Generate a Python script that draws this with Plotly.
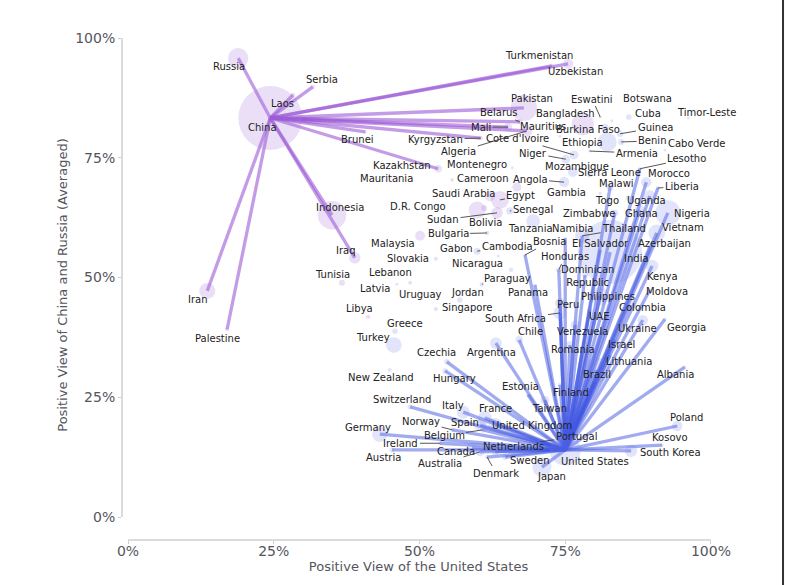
import numpy as np
import plotly.graph_objects as go

# ---- data: favourability of the US (x) vs average favourability of China and Russia (y), in percent
countries = [
    "China", "Russia", "Serbia", "Laos", "Brunei", "Turkmenistan", "Uzbekistan", "Pakistan",
    "Belarus", "Mali", "Kyrgyzstan", "Kazakhstan", "Indonesia", "Iraq", "Iran", "Palestine",
    "Algeria", "Mauritius", "Bangladesh", "Burkina Faso", "Eswatini", "Montenegro", "Mauritania",
    "Cameroon", "Saudi Arabia", "Egypt", "Senegal", "D.R. Congo", "Sudan", "Bolivia", "Bulgaria",
    "Malaysia", "Slovakia", "Tunisia", "Lebanon", "Latvia", "Libya", "Uruguay", "Greece", "Turkey",
    "New Zealand", "Singapore", "Jordan", "Paraguay", "Nicaragua", "Cambodia", "Gabon", "Tanzania",
    "Bosnia", "Cote d'Ivoire", "Niger", "Ethiopia", "Armenia", "Benin", "Guinea", "Cuba",
    "Botswana", "Timor-Leste", "Cabo Verde", "Mozambique", "Sierra Leone", "Lesotho", "Morocco",
    "Angola", "Gambia", "Malawi", "Togo", "Liberia", "Uganda", "Nigeria", "Ghana", "Zimbabwe",
    "Vietnam", "Thailand", "Namibia", "El Salvador", "Azerbaijan", "India", "Kenya",
    "Dominican Republic", "Honduras", "Moldova", "Philippines", "Peru", "South Africa", "Panama",
    "UAE", "Colombia", "Ukraine", "Georgia", "Venezuela", "Chile", "Argentina", "Romania",
    "Israel", "Lithuania", "Brazil", "Albania", "Czechia", "Hungary", "Estonia", "Finland",
    "Taiwan", "Switzerland", "Italy", "France", "Spain", "United Kingdom", "Norway", "Germany",
    "Belgium", "Ireland", "Austria", "Canada", "Netherlands", "Australia", "Denmark", "Sweden",
    "Japan", "United States", "Portugal", "Poland", "Kosovo", "South Korea",
]

us_view = [
    24.4, 18.9, 31.7, 28.3, 40.7, 72.7, 75.5, 67.9,
    67.2, 65.2, 60.5, 53.2, 35.0, 38.9, 13.6, 17.0,
    68.4, 74.1, 78.0, 81.8, 81.0, 65.9, 55.6,
    66.7, 62.1, 63.8, 65.5, 59.9, 63.3, 61.1, 61.6,
    50.1, 52.8, 36.7, 48.4, 46.1, 41.2, 47.5, 45.8, 45.6,
    44.9, 52.8, 56.9, 60.7, 65.7, 59.9, 63.5, 69.5,
    68.1, 76.5, 75.1, 82.2, 79.2, 84.6, 84.4, 85.9,
    83.0, 96.1, 92.1, 76.3, 79.2, 87.8, 88.9,
    74.8, 81.0, 82.7, 85.8, 90.9, 89.5, 92.6, 87.8, 83.5,
    90.7, 77.9, 75.0, 81.0, 89.5, 82.7, 89.9,
    78.4, 73.9, 89.5, 81.0, 74.1, 74.1, 69.8,
    79.2, 86.1, 88.3, 92.1, 76.7, 67.1, 63.1, 75.8,
    83.5, 82.7, 80.4, 95.5, 54.7, 54.4, 68.6, 74.1,
    71.5, 48.4, 57.5, 61.2, 60.4, 63.0, 55.6, 43.2,
    60.9, 53.5, 45.3, 59.0, 63.0, 60.4, 61.6, 64.7,
    71.0, 75.0, 70.7, 94.2, 91.6, 86.3,
]

cn_ru_view = [
    83.3, 95.8, 89.8, 88.1, 80.4, 94.2, 94.6, 85.4,
    82.5, 81.4, 79.1, 72.7, 63.0, 54.1, 47.2, 39.2,
    80.6, 79.5, 82.0, 81.2, 83.5, 72.9, 70.4,
    68.9, 67.0, 66.2, 63.9, 64.1, 63.5, 64.5, 59.3,
    58.7, 53.9, 48.9, 48.9, 48.6, 41.8, 45.9, 38.8, 35.9,
    30.7, 43.4, 45.3, 48.6, 51.6, 55.5, 54.5, 61.8,
    54.7, 75.6, 74.7, 78.3, 76.4, 78.3, 80.0, 83.5,
    82.7, 83.3, 76.6, 72.0, 71.4, 72.7, 69.9,
    69.9, 67.6, 68.9, 66.6, 68.7, 67.0, 63.5, 64.1, 63.5,
    59.3, 58.7, 58.2, 55.7, 56.4, 55.3, 52.4,
    50.5, 51.6, 47.4, 46.1, 44.7, 42.6, 48.4,
    43.2, 44.3, 41.1, 41.3, 40.1, 37.0, 36.3, 35.9,
    37.0, 33.8, 30.7, 31.3, 32.4, 30.5, 25.5, 27.6,
    24.4, 23.0, 21.9, 20.7, 19.2, 19.2, 18.2, 17.3,
    18.2, 15.4, 14.0, 14.4, 13.6, 13.6, 12.5, 12.5,
    10.4, 14.0, 15.7, 19.0, 15.0, 13.8,
]

# population in millions (bubble area)
population = [
    1410, 144, 6.7, 7.5, 0.45, 6.4, 35, 240,
    9.2, 22, 6.7, 19.6, 277, 45, 89, 5.4,
    45, 1.3, 171, 22, 1.2, 0.6, 4.7,
    28, 36, 110, 18, 100, 47, 12, 6.5,
    34, 5.4, 12, 5.5, 1.9, 6.8, 3.4, 10.4, 85,
    5.1, 5.9, 11, 6.8, 7, 17, 2.4, 65,
    3.2, 28, 26, 123, 2.8, 13, 14, 11,
    2.6, 1.3, 0.6, 33, 8.6, 2.3, 37,
    36, 2.7, 20, 9, 5.3, 48, 220, 33, 16,
    98, 70, 2.6, 6.3, 10, 1420, 54,
    11, 10, 2.6, 115, 34, 60, 4.4,
    9.4, 52, 38, 3.7, 28, 19.5, 46, 19,
    9.7, 2.8, 215, 2.8, 10.5, 9.6, 1.3, 5.5,
    23.5, 8.8, 59, 68, 48, 67, 5.5, 84,
    11.7, 5.1, 9.1, 39, 17.8, 26, 5.9, 10.5,
    125, 335, 10.3, 38, 1.8, 52,
]

china_partners = [
    "Russia", "Serbia", "Laos", "Brunei", "Turkmenistan", "Uzbekistan", "Pakistan", "Belarus",
    "Mali", "Kyrgyzstan", "Kazakhstan", "Indonesia", "Iraq", "Iran", "Palestine", "Algeria",
]

us_partners = [
    "Lesotho", "Morocco", "Liberia", "Uganda", "Malawi", "Nigeria", "Ghana", "Zimbabwe",
    "Vietnam", "Thailand", "Namibia", "El Salvador", "Azerbaijan", "India", "Kenya",
    "Dominican Republic", "Honduras", "Moldova", "Philippines", "Peru", "South Africa", "Panama",
    "UAE", "Colombia", "Ukraine", "Georgia", "Venezuela", "Chile", "Argentina", "Romania",
    "Israel", "Lithuania", "Brazil", "Albania", "Czechia", "Hungary", "Estonia", "Finland",
    "Taiwan", "Switzerland", "Italy", "France", "Spain", "United Kingdom", "Norway", "Germany",
    "Belgium", "Ireland", "Austria", "Canada", "Netherlands", "Australia", "Denmark", "Sweden",
    "Japan", "Portugal", "Poland", "Kosovo", "South Korea", "Bosnia",
]

tick_values = [0, 25, 50, 75, 100]
tick_labels = ["0%", "25%", "50%", "75%", "100%"]

# label placement: pixel offset of the label centre from its point, and whether a leader line is drawn
label_offsets = {
    "China": (-8, 10, False), "Russia": (-9, 8, False), "Serbia": (9, -7, False),
    "Laos": (-10, 8, False), "Brunei": (-8, 8, False), "Turkmenistan": (-13, -10, False),
    "Uzbekistan": (7, 8, False), "Pakistan": (8, -9, False), "Belarus": (-21, -9, True),
    "Mali": (-27, 0, True), "Kyrgyzstan": (-45, 1, True), "Kazakhstan": (-36, -3, False),
    "Indonesia": (8, -8, False), "Iraq": (-9, -7, False), "Iran": (-9, 9, False),
    "Palestine": (-10, 9, False), "Algeria": (-68, 21, True), "Mauritius": (-17, -10, False),
    "Bangladesh": (-17, -11, False), "Burkina Faso": (-17, 1, False), "Eswatini": (-8, -18, True),
    "Montenegro": (-35, -3, False), "Mauritania": (-66, -1, False), "Cameroon": (-34, -8, False),
    "Saudi Arabia": (-27, -3, False), "Egypt": (21, -4, True), "Senegal": (23, -1, True),
    "D.R. Congo": (-59, -3, False), "Sudan": (-54, 7, True), "Bolivia": (1, 14, False),
    "Bulgaria": (-39, 1, True), "Malaysia": (-27, 8, False), "Slovakia": (-28, 0, False),
    "Tunisia": (-9, -8, False), "Lebanon": (-20, -10, False), "Latvia": (-22, 4, False),
    "Libya": (-9, -8, False), "Uruguay": (16, -3, False), "Greece": (10, -8, False),
    "Turkey": (-21, -8, False), "New Zealand": (-9, 8, False), "Singapore": (31, -2, False),
    "Jordan": (8, -8, False), "Paraguay": (26, -6, True), "Nicaragua": (-34, -6, False),
    "Cambodia": (30, -5, True), "Gabon": (-42, -7, False), "Tanzania": (-3, 8, False),
    "Bosnia": (24, -13, True), "Cote d'Ivoire": (-56, -16, True), "Niger": (-33, -6, True),
    "Ethiopia": (-25, 1, False), "Armenia": (47, 2, True), "Benin": (31, -1, True),
    "Guinea": (35, -6, True), "Cuba": (19, -4, False), "Botswana": (36, -22, False),
    "Timor-Leste": (18, -5, False), "Cabo Verde": (32, -7, False), "Mozambique": (4, -6, False),
    "Sierra Leone": (20, -3, False), "Lesotho": (47, -10, True), "Morocco": (23, -9, False),
    "Angola": (-34, -3, True), "Gambia": (-34, -1, False), "Malawi": (6, -3, False),
    "Togo": (-21, 3, False), "Liberia": (24, -1, True), "Uganda": (-3, 4, False),
    "Nigeria": (24, 1, False), "Ghana": (2, 4, False), "Zimbabwe": (-25, 1, True),
    "Vietnam": (26, -5, False), "Thailand": (42, -7, True), "Namibia": (7, -10, False),
    "El Salvador": (0, -7, False), "Azerbaijan": (15, -3, False), "India": (26, 6, False),
    "Kenya": (10, 10, False), "Dominican Republic": (2, 1, False), "Honduras": (6, -13, True),
    "Moldova": (17, 2, False), "Philippines": (8, 0, False), "Peru": (8, 2, False),
    "South Africa": (-44, 6, True), "Panama": (-7, 7, False), "UAE": (9, 6, False),
    "Colombia": (13, 3, False), "Ukraine": (-5, 8, False), "Georgia": (22, 8, False),
    "Venezuela": (7, 7, False), "Chile": (11, -8, False), "Argentina": (-4, 9, False),
    "Romania": (3, 4, False), "Israel": (7, 5, False), "Lithuania": (19, 6, False),
    "Brazil": (0, 5, False), "Albania": (-9, 7, False), "Czechia": (-10, -9, False),
    "Hungary": (9, 8, False), "Estonia": (-7, -8, False), "Finland": (11, 8, False),
    "Taiwan": (5, 8, False), "Switzerland": (-8, -7, False), "Italy": (-10, -7, False),
    "France": (11, -9, False), "Spain": (-15, -3, False), "United Kingdom": (37, 0, False),
    "Norway": (-31, -8, True), "Germany": (-12, -7, False), "Belgium": (-39, 6, True),
    "Ireland": (-39, 0, True), "Austria": (-9, 8, False), "Canada": (-16, 3, False),
    "Netherlands": (18, -5, False), "Australia": (-40, 12, True), "Denmark": (9, 16, True),
    "Sweden": (25, 3, False), "Japan": (10, 9, False), "United States": (30, 12, False),
    "Portugal": (36, -5, True), "Poland": (9, -9, False), "Kosovo": (8, -8, False),
    "South Korea": (39, 2, False),
}

PURPLE_LINE = "rgba(152, 82, 212, 0.58)"
BLUE_LINE = "rgba(66, 88, 226, 0.5)"
PURPLE_FILL = "rgba(168, 122, 222, 0.35)"
BLUE_FILL = "rgba(112, 128, 236, 0.3)"
TEXT = "#222222"
AXIS_GREY = "#cfcfcf"
TICK_TEXT = "#555560"
FONT = "DejaVu Sans"

pos = {c: (x, y) for c, x, y in zip(countries, us_view, cn_ru_view)}

fig = go.Figure()

# spokes from each hub to its partner countries
for hub, partners, colour in (("China", china_partners, PURPLE_LINE),
                              ("United States", us_partners, BLUE_LINE)):
    hx, hy = pos[hub]
    for p in partners:
        px, py = pos[p]
        fig.add_trace(go.Scatter(
            x=[hx, px], y=[hy, py], mode="lines",
            line=dict(color=colour, width=3.3),
            hoverinfo="skip", showlegend=False,
        ))

# bubbles: area proportional to population, colour by which side is viewed more favourably
us_arr = np.array(us_view)
cr_arr = np.array(cn_ru_view)
diam = np.maximum(2 * 0.85 * np.sqrt(np.array(population)), 3)
pro_east = cr_arr > us_arr
for mask, fill in ((pro_east, PURPLE_FILL), (~pro_east, BLUE_FILL)):
    fig.add_trace(go.Scatter(
        x=us_arr[mask], y=cr_arr[mask], mode="markers",
        marker=dict(size=diam[mask], color=fill, line=dict(width=0)),
        text=[c for c, m in zip(countries, mask) if m],
        hovertemplate="%{text}<br>US %{x:.0f}%<br>China/Russia %{y:.0f}%<extra></extra>",
        showlegend=False,
    ))

# country labels
annotations = []
for c in countries:
    dx, dy, leader = label_offsets[c]
    text = "Dominican<br>Republic" if c == "Dominican Republic" else c
    x, y = pos[c]
    common = dict(x=x, y=y, xref="x", yref="y", text=text,
                  font=dict(family=FONT, size=10, color=TEXT))
    if leader:
        annotations.append(dict(common, showarrow=True, ax=dx, ay=dy,
                                arrowhead=0, arrowwidth=0.9, arrowcolor="#444444",
                                standoff=0, startstandoff=0))
    else:
        annotations.append(dict(common, showarrow=False, xshift=dx, yshift=-dy))

axis_common = dict(
    showgrid=False, zeroline=False, showline=False,
    ticks="outside", ticklen=3, tickwidth=1, tickcolor=AXIS_GREY,
    tickmode="array", tickvals=tick_values, ticktext=tick_labels,
    tickfont=dict(family=FONT, size=14, color=TICK_TEXT),
)

fig.update_layout(
    width=785, height=585,
    margin=dict(l=122, r=70, t=30, b=45),
    paper_bgcolor="white", plot_bgcolor="white",
    xaxis=dict(axis_common, range=[-1.03, 100.69], ticklabelstandoff=-5,
               title=dict(text="Positive View of the United States", standoff=0,
                          font=dict(family=FONT, size=13, color=TICK_TEXT))),
    yaxis=dict(axis_common, range=[-4.8, 101.67],
               title=dict(text="Positive View of China and Russia (Averaged)", standoff=4,
                          font=dict(family=FONT, size=13, color=TICK_TEXT))),
    annotations=annotations,
    shapes=[
        dict(type="line", xref="x", yref="paper", x0=0, x1=100, y0=0, y1=0,
             line=dict(color=AXIS_GREY, width=1.5)),
        dict(type="line", xref="paper", yref="y", x0=0, x1=0, y0=0, y1=100,
             line=dict(color=AXIS_GREY, width=1.5)),
        # dark frame edge on the right of the canvas
        dict(type="line", xref="paper", yref="paper", x0=1.1147, x1=1.1147, y0=-0.09, y1=1.06,
             line=dict(color="#333333", width=2)),
    ],
)

fig.write_html("out.html")
